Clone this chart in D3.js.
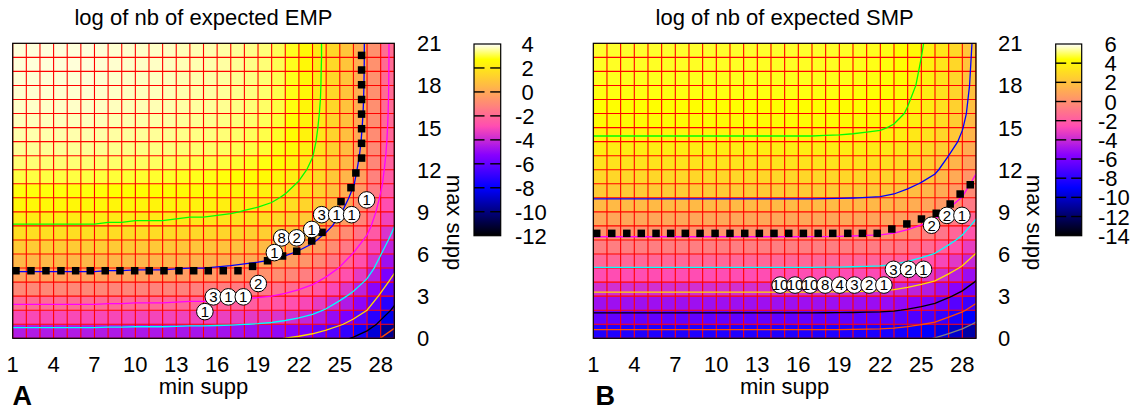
<!DOCTYPE html>
<html><head><meta charset="utf-8">
<script src="https://cdn.jsdelivr.net/npm/d3@7"></script>
<style>
body{margin:0;background:#fff}
svg{display:block}
text{font-family:"Liberation Sans",Arial,Helvetica,sans-serif;fill:#000}
</style>
</head><body>
<svg id="chart" width="1136" height="410"></svg>
<script>
// ---------------- data ----------------
const minSupp = [1,2,3,4,5,6,7,8,9,10,11,12,13,14,15,16,17,18,19,20,21,22,23,24,25,26,27,28,29];
const maxSupp = [0,1,2,3,4,5,6,7,8,9,10,11,12,13,14,15,16,17,18,19,20,21];
const xTickLabels = [1,4,7,10,13,16,19,22,25,28];
const yTickLabels = [0,3,6,9,12,15,18,21];
const cbTicksEMP = [4,2,0,-2,-4,-6,-8,-10,-12];
const cbTicksSMP = [6,4,2,0,-2,-4,-6,-8,-10,-12,-14];
const contourLevelsEMP = [2,0,-2,-4,-6,-8,-10];
const contourLevelsSMP = [4,2,0,-2,-4,-6,-8,-10];
const contourColors = ["#00ff00","#0000ff","#ff00ff","#00ffff","#ffdd00","#000000","#ff4d00","#808080"];

// log of nb of expected EMP, one row per max supp (0..21), one value per min supp (1..29)
const empLog = [
[-5.3,-5.3,-5.3,-5.3,-5.3,-5.3,-5.3,-5.35,-5.35,-5.4,-5.4,-5.4,-5.45,-5.5,-5.5,-5.55,-5.6,-5.68,-5.75,-5.85,-6.02,-6.25,-6.55,-7.0,-7.55,-8.15,-8.9,-10.05,-11.2],
[-3.6,-3.6,-3.6,-3.6,-3.6,-3.6,-3.6,-3.65,-3.65,-3.7,-3.7,-3.7,-3.75,-3.8,-3.8,-3.85,-3.9,-3.98,-4.05,-4.15,-4.32,-4.55,-4.85,-5.3,-5.85,-6.45,-7.2,-8.35,-9.5],
[-2.4,-2.4,-2.4,-2.4,-2.4,-2.4,-2.4,-2.45,-2.45,-2.5,-2.5,-2.5,-2.55,-2.6,-2.6,-2.65,-2.7,-2.78,-2.85,-2.95,-3.12,-3.35,-3.65,-4.1,-4.65,-5.25,-6.0,-7.15,-8.3],
[-1.45,-1.45,-1.45,-1.45,-1.45,-1.45,-1.45,-1.5,-1.5,-1.55,-1.55,-1.55,-1.6,-1.65,-1.65,-1.7,-1.75,-1.83,-1.9,-2.0,-2.17,-2.4,-2.7,-3.15,-3.7,-4.3,-5.05,-6.2,-7.35],
[-0.6,-0.6,-0.6,-0.6,-0.6,-0.6,-0.6,-0.65,-0.65,-0.7,-0.7,-0.7,-0.75,-0.8,-0.8,-0.85,-0.9,-0.98,-1.05,-1.15,-1.32,-1.55,-1.85,-2.3,-2.85,-3.45,-4.2,-5.35,-6.5],
[0.2,0.2,0.2,0.2,0.2,0.2,0.2,0.15,0.15,0.1,0.1,0.1,0.05,0.0,0.0,-0.05,-0.1,-0.18,-0.25,-0.35,-0.52,-0.75,-1.05,-1.5,-2.05,-2.65,-3.4,-4.55,-5.7],
[0.8,0.8,0.8,0.8,0.8,0.8,0.8,0.75,0.75,0.7,0.7,0.7,0.65,0.6,0.6,0.55,0.5,0.42,0.35,0.25,0.08,-0.15,-0.45,-0.9,-1.45,-2.05,-2.8,-3.95,-5.1],
[1.4,1.4,1.4,1.4,1.4,1.4,1.4,1.35,1.35,1.3,1.3,1.3,1.25,1.2,1.2,1.15,1.1,1.02,0.95,0.85,0.68,0.45,0.15,-0.3,-0.85,-1.45,-2.2,-3.35,-4.5],
[1.95,1.95,1.95,1.95,1.95,1.95,1.95,1.9,1.9,1.85,1.85,1.85,1.8,1.75,1.75,1.7,1.65,1.57,1.5,1.4,1.23,1.0,0.7,0.25,-0.3,-0.9,-1.65,-2.8,-3.95],
[2.35,2.35,2.35,2.35,2.35,2.35,2.35,2.3,2.3,2.25,2.25,2.25,2.2,2.15,2.15,2.1,2.05,1.97,1.9,1.8,1.63,1.4,1.1,0.65,0.1,-0.5,-1.25,-2.4,-3.55],
[2.65,2.65,2.65,2.65,2.65,2.65,2.65,2.6,2.6,2.55,2.55,2.55,2.5,2.45,2.45,2.4,2.35,2.27,2.2,2.1,1.93,1.7,1.4,0.95,0.4,-0.2,-0.95,-2.1,-3.25],
[2.9,2.9,2.9,2.9,2.9,2.9,2.9,2.85,2.85,2.8,2.8,2.8,2.75,2.7,2.7,2.65,2.6,2.52,2.45,2.35,2.18,1.95,1.65,1.2,0.65,0.05,-0.7,-1.85,-3.0],
[3.2,3.2,3.2,3.2,3.2,3.2,3.2,3.15,3.15,3.1,3.1,3.1,3.05,3.0,3.0,2.95,2.9,2.82,2.75,2.65,2.45,2.19,1.86,1.38,0.8,0.2,-0.55,-1.7,-2.85],
[3.4,3.4,3.4,3.4,3.4,3.4,3.4,3.35,3.35,3.3,3.3,3.3,3.25,3.2,3.2,3.15,3.1,3.02,2.95,2.85,2.64,2.36,2.02,1.52,0.93,0.33,-0.42,-1.57,-2.72],
[3.54,3.54,3.54,3.54,3.54,3.54,3.54,3.49,3.49,3.44,3.44,3.44,3.39,3.34,3.34,3.29,3.24,3.16,3.09,2.99,2.77,2.48,2.13,1.62,1.02,0.42,-0.33,-1.48,-2.63],
[3.63,3.63,3.63,3.63,3.63,3.63,3.63,3.58,3.58,3.53,3.53,3.53,3.48,3.43,3.43,3.38,3.33,3.25,3.18,3.08,2.85,2.56,2.2,1.69,1.08,0.48,-0.27,-1.42,-2.57],
[3.7,3.7,3.7,3.7,3.7,3.7,3.7,3.65,3.65,3.6,3.6,3.6,3.55,3.5,3.5,3.45,3.4,3.32,3.25,3.15,2.92,2.62,2.26,1.74,1.13,0.53,-0.22,-1.37,-2.52],
[3.75,3.75,3.75,3.75,3.75,3.75,3.75,3.7,3.7,3.65,3.65,3.65,3.6,3.55,3.55,3.5,3.45,3.37,3.3,3.2,2.96,2.66,2.3,1.78,1.16,0.56,-0.19,-1.34,-2.49],
[3.78,3.78,3.78,3.78,3.78,3.78,3.78,3.73,3.73,3.68,3.68,3.68,3.63,3.58,3.58,3.53,3.48,3.4,3.33,3.23,2.99,2.69,2.32,1.8,1.18,0.58,-0.17,-1.32,-2.47],
[3.8,3.8,3.8,3.8,3.8,3.8,3.8,3.75,3.75,3.7,3.7,3.7,3.65,3.6,3.6,3.55,3.5,3.42,3.35,3.25,3.01,2.71,2.33,1.81,1.19,0.59,-0.16,-1.31,-2.46],
[3.82,3.82,3.82,3.82,3.82,3.82,3.82,3.77,3.77,3.72,3.72,3.72,3.67,3.62,3.62,3.57,3.52,3.44,3.37,3.27,3.03,2.72,2.35,1.82,1.2,0.6,-0.15,-1.3,-2.45],
[3.82,3.82,3.82,3.82,3.82,3.82,3.82,3.77,3.77,3.72,3.72,3.72,3.67,3.62,3.62,3.57,3.52,3.44,3.37,3.27,3.03,2.72,2.35,1.82,1.2,0.6,-0.15,-1.3,-2.45]
];

// log of nb of expected SMP
const smpLog = [
[-9.1,-9.1,-9.1,-9.1,-9.1,-9.1,-9.1,-9.1,-9.1,-9.1,-9.1,-9.1,-9.1,-9.1,-9.1,-9.1,-9.1,-9.11,-9.12,-9.14,-9.17,-9.2,-9.3,-9.5,-9.75,-10.05,-10.6,-11.2,-12.05],
[-7.3,-7.3,-7.3,-7.3,-7.3,-7.3,-7.3,-7.3,-7.3,-7.3,-7.3,-7.3,-7.3,-7.3,-7.3,-7.3,-7.3,-7.31,-7.32,-7.34,-7.37,-7.4,-7.5,-7.7,-7.95,-8.25,-8.8,-9.4,-10.25],
[-5.7,-5.7,-5.7,-5.7,-5.7,-5.7,-5.7,-5.7,-5.7,-5.7,-5.7,-5.7,-5.7,-5.7,-5.7,-5.7,-5.7,-5.71,-5.72,-5.74,-5.77,-5.8,-5.9,-6.1,-6.35,-6.65,-7.2,-7.8,-8.65],
[-4.35,-4.35,-4.35,-4.35,-4.35,-4.35,-4.35,-4.35,-4.35,-4.35,-4.35,-4.35,-4.35,-4.35,-4.35,-4.35,-4.35,-4.36,-4.37,-4.39,-4.42,-4.45,-4.55,-4.75,-5.0,-5.3,-5.85,-6.45,-7.3],
[-3.15,-3.15,-3.15,-3.15,-3.15,-3.15,-3.15,-3.15,-3.15,-3.15,-3.15,-3.15,-3.15,-3.15,-3.15,-3.15,-3.15,-3.16,-3.17,-3.19,-3.22,-3.25,-3.35,-3.55,-3.8,-4.1,-4.65,-5.25,-6.1],
[-2.05,-2.05,-2.05,-2.05,-2.05,-2.05,-2.05,-2.05,-2.05,-2.05,-2.05,-2.05,-2.05,-2.05,-2.05,-2.05,-2.05,-2.06,-2.07,-2.09,-2.12,-2.15,-2.25,-2.45,-2.7,-3.0,-3.55,-4.15,-5.0],
[-1.1,-1.1,-1.1,-1.1,-1.1,-1.1,-1.1,-1.1,-1.1,-1.1,-1.1,-1.1,-1.1,-1.1,-1.1,-1.1,-1.1,-1.11,-1.12,-1.14,-1.17,-1.2,-1.3,-1.5,-1.75,-2.05,-2.6,-3.2,-4.05],
[-0.18,-0.18,-0.18,-0.18,-0.18,-0.18,-0.18,-0.18,-0.18,-0.18,-0.18,-0.18,-0.18,-0.18,-0.18,-0.18,-0.18,-0.19,-0.2,-0.22,-0.25,-0.28,-0.38,-0.58,-0.83,-1.13,-1.68,-2.28,-3.13],
[0.6,0.6,0.6,0.6,0.6,0.6,0.6,0.6,0.6,0.6,0.6,0.6,0.6,0.6,0.6,0.6,0.6,0.59,0.58,0.56,0.53,0.5,0.4,0.2,-0.05,-0.35,-0.9,-1.5,-2.35],
[1.33,1.33,1.33,1.33,1.33,1.33,1.33,1.33,1.33,1.33,1.33,1.33,1.33,1.33,1.33,1.33,1.33,1.32,1.31,1.29,1.26,1.23,1.13,0.93,0.68,0.38,-0.17,-0.77,-1.62],
[2.05,2.05,2.05,2.05,2.05,2.05,2.05,2.05,2.05,2.05,2.05,2.05,2.05,2.05,2.05,2.05,2.05,2.04,2.03,2.01,1.98,1.95,1.85,1.65,1.4,1.1,0.55,-0.05,-0.9],
[2.6,2.6,2.6,2.6,2.6,2.6,2.6,2.6,2.6,2.6,2.6,2.6,2.6,2.6,2.6,2.6,2.6,2.59,2.58,2.56,2.53,2.5,2.4,2.2,1.95,1.65,1.1,0.5,-0.35],
[3.1,3.1,3.1,3.1,3.1,3.1,3.1,3.1,3.1,3.1,3.1,3.1,3.1,3.1,3.1,3.1,3.1,3.09,3.08,3.06,3.03,3.0,2.9,2.7,2.45,2.15,1.6,1.0,0.15],
[3.5,3.5,3.5,3.5,3.5,3.5,3.5,3.5,3.5,3.5,3.5,3.5,3.5,3.5,3.5,3.5,3.5,3.49,3.48,3.46,3.43,3.4,3.3,3.1,2.85,2.55,2.0,1.4,0.55],
[3.9,3.9,3.9,3.9,3.9,3.9,3.9,3.9,3.9,3.9,3.9,3.9,3.9,3.9,3.9,3.9,3.9,3.89,3.88,3.86,3.83,3.8,3.7,3.5,3.25,2.95,2.4,1.8,0.95],
[4.15,4.15,4.15,4.15,4.15,4.15,4.15,4.15,4.15,4.15,4.15,4.15,4.15,4.15,4.15,4.15,4.15,4.14,4.13,4.11,4.08,4.05,3.95,3.75,3.5,3.2,2.65,2.05,1.2],
[4.35,4.35,4.35,4.35,4.35,4.35,4.35,4.35,4.35,4.35,4.35,4.35,4.35,4.35,4.35,4.35,4.35,4.34,4.33,4.31,4.28,4.25,4.15,3.95,3.7,3.4,2.85,2.25,1.4],
[4.45,4.45,4.45,4.45,4.45,4.45,4.45,4.45,4.45,4.45,4.45,4.45,4.45,4.45,4.45,4.45,4.45,4.44,4.43,4.41,4.38,4.35,4.25,4.05,3.8,3.5,2.95,2.35,1.5],
[4.55,4.55,4.55,4.55,4.55,4.55,4.55,4.55,4.55,4.55,4.55,4.55,4.55,4.55,4.55,4.55,4.55,4.54,4.53,4.51,4.48,4.45,4.35,4.15,3.9,3.6,3.05,2.45,1.6],
[4.6,4.6,4.6,4.6,4.6,4.6,4.6,4.6,4.6,4.6,4.6,4.6,4.6,4.6,4.6,4.6,4.6,4.59,4.58,4.56,4.53,4.5,4.4,4.2,3.95,3.65,3.1,2.5,1.65],
[4.65,4.65,4.65,4.65,4.65,4.65,4.65,4.65,4.65,4.65,4.65,4.65,4.65,4.65,4.65,4.65,4.65,4.64,4.63,4.61,4.58,4.55,4.45,4.25,4.0,3.7,3.15,2.55,1.7],
[4.7,4.7,4.7,4.7,4.7,4.7,4.7,4.7,4.7,4.7,4.7,4.7,4.7,4.7,4.7,4.7,4.7,4.69,4.68,4.66,4.63,4.6,4.5,4.3,4.05,3.75,3.2,2.6,1.75]
];

// threshold markers (black squares)
const empThreshX = [1.24,2.34,3.44,4.54,5.62,6.69,7.79,8.87,9.95,11.02,12.1,13.2,14.28,15.35,16.45,17.53,18.6,19.7,20.8,21.84,22.94,23.7,25.09,25.82,26.18,26.6,26.6,26.6,26.6,26.6,26.6,26.6,26.6];
const empThreshY = [4.81,4.81,4.81,4.81,4.81,4.81,4.81,4.81,4.81,4.81,4.81,4.81,4.81,4.81,4.81,4.81,5.12,5.52,5.86,6.2,6.93,7.54,9.73,10.72,11.77,12.83,13.88,14.92,15.96,17.0,18.05,19.1,20.14];
const smpThreshX = [1.25,2.35,3.45,4.51,5.59,6.66,7.73,8.81,9.91,11.0,12.08,13.15,14.22,15.3,16.37,17.45,18.52,19.62,20.69,21.77,22.84,23.94,25.01,26.09,27.11,27.84,28.58];
const smpThreshY = [7.47,7.47,7.47,7.47,7.47,7.47,7.47,7.47,7.47,7.47,7.47,7.47,7.47,7.47,7.47,7.47,7.47,7.47,7.47,7.47,7.78,8.14,8.49,8.9,9.56,10.27,10.93];

// numbered circles
const empLabelX = [15.72,15.1,16.82,17.92,19.02,20.2,20.74,21.84,22.94,23.67,24.77,25.87,26.97];
const empLabelY = [2.95,1.9,2.95,2.95,3.9,6.1,7.15,7.15,7.75,8.8,8.8,8.8,9.85];
const empLabelText = ["3","1","1","1","2","1","8","2","1","3","1","1","1"];
const smpLabelX = [14.67,15.76,16.86,17.96,19.03,20.1,21.18,22.26,22.96,24.06,25.16,25.75,26.87,27.97];
const smpLabelY = [3.79,3.79,3.79,3.79,3.79,3.79,3.79,3.79,4.91,4.91,4.91,8.05,8.75,8.75];
const smpLabelText = ["10","10","10","8","4","3","2","1","3","2","1","2","2","1"];

// ---------------- palette (gnuplot rgbformulae 30,31,32) ----------------
function clamp01(v){ return Math.max(0, Math.min(1, v)); }
function palette(t){
  t = clamp01(t);
  const r = clamp01(t/0.32 - 0.78125);
  const g = clamp01(2*t - 0.84);
  let b;
  if (t < 0.25) b = 4*t; else if (t < 0.42) b = 1; else if (t < 0.92) b = -2*t + 1.84; else b = t/0.08 - 11.5;
  b = clamp01(b);
  return d3.rgb(r*255, g*255, b*255).formatHex();
}

// ---------------- layout ----------------
const panels = [
  {key:"A", title:"log of nb of expected EMP", rows:empLog, cbTicks:cbTicksEMP, levels:contourLevelsEMP,
   sqX:empThreshX, sqY:empThreshY, lbX:empLabelX, lbY:empLabelY, lbT:empLabelText,
   left:12.7, right:394.3, top:43.3, bottom:338.3,
   cbLeft:474, cbRight:500.7, cbTop:44, cbBottom:235.7, cbLabelX:515,
   yLabelX:417, yTitleX:446.7, letterX:12.5},
  {key:"B", title:"log of nb of expected SMP", rows:smpLog, cbTicks:cbTicksSMP, levels:contourLevelsSMP,
   sqX:smpThreshX, sqY:smpThreshY, lbX:smpLabelX, lbY:smpLabelY, lbT:smpLabelText,
   left:593.3, right:976, top:43.3, bottom:338.3,
   cbLeft:1055.7, cbRight:1081.7, cbTop:44, cbBottom:235.7, cbLabelX:1098,
   yLabelX:998, yTitleX:1027.3, letterX:595.5}
];

const svg = d3.select("#chart");
const defs = svg.append("defs");

panels.forEach(p => {
  const g = svg.append("g");
  const xs = d3.scaleLinear().domain([minSupp[0], minSupp[minSupp.length-1]]).range([p.left, p.right]);
  const ys = d3.scaleLinear().domain([maxSupp[0], maxSupp[maxSupp.length-1]]).range([p.bottom, p.top]);
  const cbMin = d3.min(p.cbTicks), cbMax = d3.max(p.cbTicks);
  const color = d3.scaleSequential(palette).domain([cbMin, cbMax]).clamp(true);

  const clipId = "clip" + p.key;
  defs.append("clipPath").attr("id", clipId).append("rect")
    .attr("x", p.left).attr("y", p.top).attr("width", p.right - p.left).attr("height", p.bottom - p.top);

  // cells: mean of 4 corners
  const cells = [];
  for (let j = 0; j < maxSupp.length - 1; j++) {
    for (let i = 0; i < minSupp.length - 1; i++) {
      const m = (p.rows[j][i] + p.rows[j][i+1] + p.rows[j+1][i] + p.rows[j+1][i+1]) / 4;
      cells.push({x0:minSupp[i], x1:minSupp[i+1], y0:maxSupp[j], y1:maxSupp[j+1], v:m});
    }
  }
  g.append("g").selectAll("rect").data(cells).join("rect")
    .attr("x", d => xs(d.x0)).attr("y", d => ys(d.y1))
    .attr("width", d => xs(d.x1) - xs(d.x0) + 0.4)
    .attr("height", d => ys(d.y0) - ys(d.y1) + 0.4)
    .attr("fill", d => color(d.v));

  // red mesh
  const mesh = g.append("g").attr("stroke", "#ff0000").attr("stroke-width", 1.1).attr("clip-path", `url(#${clipId})`);
  mesh.selectAll("line.v").data(minSupp).join("line").attr("class","v")
    .attr("x1", d => xs(d)).attr("x2", d => xs(d)).attr("y1", p.top).attr("y2", p.bottom);
  mesh.selectAll("line.h").data(maxSupp).join("line").attr("class","h")
    .attr("y1", d => ys(d)).attr("y2", d => ys(d)).attr("x1", p.left).attr("x2", p.right);

  // contours
  const flat = [];
  p.rows.forEach(r => r.forEach(v => flat.push(v)));
  const contours = d3.contours().size([minSupp.length, maxSupp.length]).thresholds(p.levels)(flat);
  const proj = d3.geoTransform({ point: function(x, y) {
    this.stream.point(xs(minSupp[0] + x - 0.5), ys(maxSupp[0] + y - 0.5));
  }});
  const path = d3.geoPath(proj);
  const cg = g.append("g").attr("clip-path", `url(#${clipId})`);
  contours.forEach(c => {
    const idx = p.levels.indexOf(c.value);
    cg.append("path").attr("d", path(c)).attr("fill", "none")
      .attr("stroke", contourColors[idx]).attr("stroke-width", 1.3);
  });

  // border
  g.append("rect").attr("x", p.left).attr("y", p.top)
    .attr("width", p.right - p.left).attr("height", p.bottom - p.top)
    .attr("fill", "none").attr("stroke", "#000").attr("stroke-width", 1.2);

  // threshold squares
  const sq = 7.5;
  g.append("g").selectAll("rect").data(p.sqX.map((x, k) => [x, p.sqY[k]])).join("rect")
    .attr("x", d => xs(d[0]) - sq/2).attr("y", d => ys(d[1]) - sq/2)
    .attr("width", sq).attr("height", sq).attr("fill", "#000");

  // numbered circles
  const lg = g.append("g");
  p.lbX.forEach((x, k) => {
    const cx = xs(x), cy = ys(p.lbY[k]);
    lg.append("circle").attr("cx", cx).attr("cy", cy).attr("r", 8.3)
      .attr("fill", "#fff").attr("stroke", "#000").attr("stroke-width", 1);
    lg.append("text").attr("x", cx).attr("y", cy).attr("dy", "0.36em")
      .attr("text-anchor", "middle").style("font-size", "15px").text(p.lbT[k]);
  });

  // title
  g.append("text").attr("x", (p.left + p.right)/2).attr("y", 25)
    .attr("text-anchor", "middle").style("font-size", "22px").text(p.title);

  // x tick labels
  g.append("g").selectAll("text").data(xTickLabels).join("text")
    .attr("x", d => xs(d)).attr("y", 371.5).attr("text-anchor", "middle")
    .style("font-size", "22px").text(d => d);
  g.append("text").attr("x", (p.left + p.right)/2).attr("y", 393.5)
    .attr("text-anchor", "middle").style("font-size", "22px").text("min supp");

  // y tick labels (right side)
  g.append("g").selectAll("text").data(yTickLabels).join("text")
    .attr("x", p.yLabelX).attr("y", d => ys(d) + 8)
    .style("font-size", "22px").text(d => d);
  g.append("text").attr("transform", `translate(${p.yTitleX},222.5) rotate(90)`)
    .attr("text-anchor", "middle").style("font-size", "22px").text("max supp");

  // panel letter
  g.append("text").attr("x", p.letterX).attr("y", 405)
    .style("font-size", "27px").style("font-weight", "bold").text(p.key);

  // colour box
  const cb = d3.scaleLinear().domain([cbMin, cbMax]).range([p.cbBottom, p.cbTop]);
  const gradId = "grad" + p.key;
  const grad = defs.append("linearGradient").attr("id", gradId)
    .attr("x1", 0).attr("y1", 1).attr("x2", 0).attr("y2", 0);
  d3.range(0, 101).forEach(k => {
    grad.append("stop").attr("offset", k + "%").attr("stop-color", palette(k/100));
  });
  g.append("rect").attr("x", p.cbLeft).attr("y", p.cbTop)
    .attr("width", p.cbRight - p.cbLeft).attr("height", p.cbBottom - p.cbTop)
    .attr("fill", `url(#${gradId})`).attr("stroke", "#000").attr("stroke-width", 1.2);
  const inner = p.cbTicks.filter(v => v !== cbMin && v !== cbMax);
  const tk = g.append("g").attr("stroke", "#000").attr("stroke-width", 1.4);
  inner.forEach(v => {
    tk.append("line").attr("x1", p.cbLeft).attr("x2", p.cbLeft + 10.5).attr("y1", cb(v)).attr("y2", cb(v));
    tk.append("line").attr("x1", p.cbRight - 10.5).attr("x2", p.cbRight).attr("y1", cb(v)).attr("y2", cb(v));
  });
  g.append("g").selectAll("text").data(p.cbTicks).join("text")
    .attr("x", d => d < 0 ? p.cbLabelX : p.cbLabelX + 6.5)
    .attr("y", d => cb(d) + 8)
    .style("font-size", "22px").text(d => d < 0 ? "-" + Math.abs(d) : String(d));
});
</script>
</body></html>
